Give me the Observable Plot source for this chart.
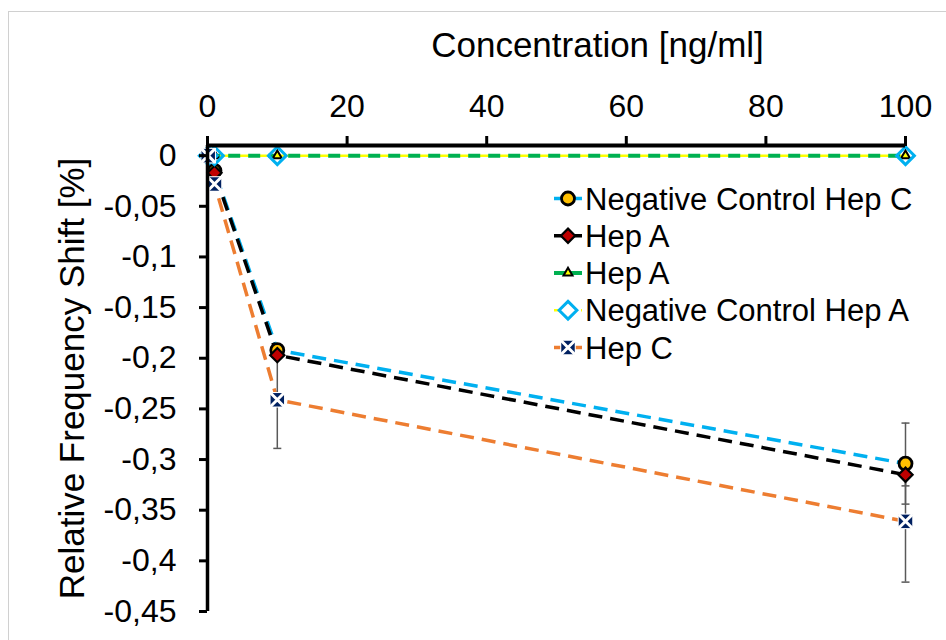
<!DOCTYPE html>
<html>
<head>
<meta charset="utf-8">
<script src="https://cdn.jsdelivr.net/npm/d3@7"></script>
<script src="https://cdn.jsdelivr.net/npm/@observablehq/plot@0.6"></script>
<style>
  body { margin: 0; background: #fff; }
  #chart { position: relative; width: 946px; height: 640px; overflow: hidden;
           font-family: "Liberation Sans", Arial, sans-serif; }
  #frame { position: absolute; left: 8px; top: 11px; width: 1000px; height: 700px;
           border: 1.5px solid #d0d0d0; }
  #chart svg { position: absolute; left: 0; top: 0; }
</style>
</head>
<body>
<div id="chart"><div id="frame"></div></div>
<script>
// Concentrations (ng/ml) and relative frequency shift (%) per series
const concentrations = [0.1, 1, 10, 100];
const seriesNames = ["Negative Control Hep C", "Hep A", "Hep A", "Negative Control Hep A", "Hep C"];
const negControlHepC = [0, -0.015, -0.192, -0.304];
const hepA = [0, -0.017, -0.197, -0.315];
const hepA2 = [0, 0, 0, 0];
const negControlHepA = [0, 0, 0, 0];
const hepC = [0, -0.028, -0.241, -0.361];
// Standard deviations (0 = no bar drawn)
const negControlHepCErr = [0, 0, 0, 0.04];
const hepAErr = [0, 0, 0, 0.011];
const hepA2Err = [0, 0, 0, 0];
const negControlHepAErr = [0, 0, 0, 0];
const hepCErr = [0, 0, 0.048, 0.06];
// Axis ticks
const xTicks = [0, 20, 40, 60, 80, 100];
const yTicks = [0, -0.05, -0.1, -0.15, -0.2, -0.25, -0.3, -0.35, -0.4, -0.45];
const xTitle = "Concentration [ng/ml]";
const yTitle = "Relative Frequency Shift [%]";

const xDomain = [0, 100];
const yDomain = [-0.45, 0.01];

const seriesValues = [negControlHepC, hepA, hepA2, negControlHepA, hepC];
const seriesErrors = [negControlHepCErr, hepAErr, hepA2Err, negControlHepAErr, hepCErr];

// Visual style of each series (line + marker); `under` lines are drawn first
const styles = [
  {line: "#00B0F0", width: 3.5, dash: "14,8", marker: "circle"},
  {line: "#000000", width: 3.5, dash: "14,8", marker: "diamond"},
  {line: "#00B050", width: 4, dash: "12,8", marker: "triangle"},
  {line: "#FFFF00", width: 2.5, dash: null, marker: "hollowDiamond", under: true},
  {line: "#ED7D31", width: 3.5, dash: "14,8", marker: "cross"}
];

const rows = seriesValues.map((vals, s) =>
  vals.map((v, i) => ({series: s, x: concentrations[i], y: v, err: seriesErrors[s][i]})));

const errRows = rows.flat().filter(d => d.err > 0);
const capRows = errRows.flatMap(d => [{x: d.x, y: d.y - d.err}, {x: d.x, y: d.y + d.err}]);

const capSymbol = {draw(ctx) { ctx.moveTo(-4, 0); ctx.lineTo(4, 0); }};

// marker sizes (Plot radius units)
const crossOuter = 8.8, crossInner = 7.6, crossTimes = 6.4;

function markerMarks(data, kind) {
  const o = {x: "x", y: "y"};
  switch (kind) {
    case "circle": return [Plot.dot(data, {...o, r: 6.5, fill: "#FFC000", stroke: "#000", strokeWidth: 2.8})];
    case "diamond": return [Plot.dot(data, {...o, symbol: "diamond2", r: 6.4, fill: "#C00000", stroke: "#000", strokeWidth: 2.2})];
    case "triangle": return [Plot.dot(data, {...o, symbol: "triangle2", r: 4.3, fill: "#FFFF00", stroke: "#000", strokeWidth: 2})];
    case "hollowDiamond": return [Plot.dot(data, {...o, symbol: "diamond2", r: 8, fill: "none", stroke: "#00B0F0", strokeWidth: 3})];
    case "cross": return [
      Plot.dot(data, {...o, symbol: "square", r: crossOuter, fill: "#fff", stroke: "none"}),
      Plot.dot(data, {...o, symbol: "square", r: crossInner, fill: "#002060", stroke: "none"}),
      Plot.dot(data, {...o, symbol: "times", r: crossTimes, stroke: "#fff", strokeWidth: 3})
    ];
  }
}

const lineMark = s => Plot.line(rows[s], {
  x: "x", y: "y", stroke: styles[s].line, strokeWidth: styles[s].width,
  strokeDasharray: styles[s].dash ?? undefined, strokeLinecap: "butt"
});
const seriesIdx = d3.range(styles.length);

const fmtY = d => d === 0 ? "0" : String(+d.toFixed(2)).replace(".", ",");

const plot = Plot.plot({
  width: 946,
  height: 640,
  marginLeft: 207,
  marginRight: 41,
  marginTop: 145,
  marginBottom: 29,
  x: {domain: xDomain},
  y: {domain: yDomain},
  style: {fontFamily: '"Liberation Sans", Arial, sans-serif', fontSize: "32px", color: "#000", background: "transparent", overflow: "visible"},
  marks: [
    // series lines
    ...seriesIdx.filter(s => styles[s].under).map(lineMark),
    ...seriesIdx.filter(s => !styles[s].under).map(lineMark),
    // error bars
    Plot.ruleX(errRows, {x: "x", y1: d => d.y - d.err, y2: d => d.y + d.err, stroke: "#595959", strokeWidth: 1.5}),
    Plot.dot(capRows, {x: "x", y: "y", symbol: capSymbol, fill: "none", stroke: "#595959", strokeWidth: 1.5}),
    // markers
    ...rows.flatMap((data, s) => markerMarks(data, styles[s].marker)),
    // axes
    Plot.ruleY([yDomain[1]], {stroke: "#000", strokeWidth: 4}),
    Plot.ruleX([xDomain[0]], {stroke: "#000", strokeWidth: 3.5}),
    Plot.axisX({anchor: "top", ticks: xTicks, tickSize: 10, tickPadding: 19, strokeWidth: 3, label: null, fontSize: 32}),
    Plot.axisY({anchor: "left", ticks: yTicks, tickSize: 8, tickPadding: 23, strokeWidth: 3, tickFormat: fmtY, label: null, fontSize: 32}),
    Plot.text([xTitle], {frameAnchor: "top", dx: 41, dy: -89, lineAnchor: "bottom", textAnchor: "middle", fontSize: 35}),
    Plot.text([yTitle], {frameAnchor: "left", dx: -135, rotate: -90, lineAnchor: "middle", textAnchor: "middle", fontSize: 35})
  ]
});

document.getElementById("chart").appendChild(plot);

// Legend, drawn inside the plot area
const legend = d3.select(plot).append("g").attr("class", "legend").attr("text-anchor", "start");
const legendX = 554, legendTop = 198.5, legendStep = 37.25;
const symSize = r => r * r * Math.PI;
styles.forEach((st, i) => {
  const cy = legendTop + i * legendStep;
  const g = legend.append("g").attr("transform", `translate(${legendX},${cy})`);
  if (st.marker === "hollowDiamond") {
    g.append("line").attr("x1", 0).attr("x2", 28).attr("stroke", st.line).attr("stroke-width", st.width)
      .attr("stroke-dasharray", "5,4");
  } else {
    g.append("line").attr("x1", 0).attr("x2", 28).attr("stroke", st.line).attr("stroke-width", st.width);
  }
  const m = g.append("g").attr("transform", "translate(14,0)");
  if (st.marker === "circle") {
    m.append("circle").attr("r", 6.5).attr("fill", "#FFC000").attr("stroke", "#000").attr("stroke-width", 2.8);
  } else if (st.marker === "diamond") {
    m.append("path").attr("d", d3.symbol(d3.symbolDiamond2, symSize(6.4))()).attr("fill", "#C00000").attr("stroke", "#000").attr("stroke-width", 2.2);
  } else if (st.marker === "triangle") {
    m.append("path").attr("d", d3.symbol(d3.symbolTriangle2, symSize(4.3))()).attr("fill", "#FFFF00").attr("stroke", "#000").attr("stroke-width", 2);
  } else if (st.marker === "hollowDiamond") {
    m.append("path").attr("d", d3.symbol(d3.symbolDiamond2, symSize(8))()).attr("fill", "#fff").attr("stroke", "#00B0F0").attr("stroke-width", 3);
  } else {
    m.append("path").attr("d", d3.symbol(d3.symbolSquare, symSize(crossOuter))()).attr("fill", "#fff");
    m.append("path").attr("d", d3.symbol(d3.symbolSquare, symSize(crossInner))()).attr("fill", "#002060");
    m.append("path").attr("d", d3.symbol(d3.symbolTimes, symSize(crossTimes))()).attr("fill", "none").attr("stroke", "#fff").attr("stroke-width", 3);
  }
  g.append("text").attr("x", 31).attr("y", 11).attr("font-size", 31).attr("fill", "#000")
    .attr("text-anchor", "start").text(seriesNames[i]);
});
</script>
</body>
</html>
